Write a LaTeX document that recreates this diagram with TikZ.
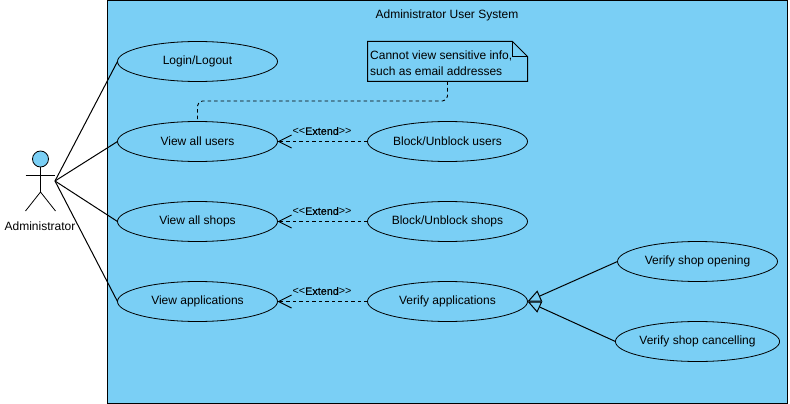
\documentclass[tikz,border=0pt]{standalone}
\usepackage{fontspec}
\setmainfont{Liberation Sans}
\newfontfamily\extendfont[FakeBold=0.6]{Liberation Sans}
\usetikzlibrary{arrows.meta}
\usetikzlibrary{shapes.geometric}
\definecolor{sysblue}{HTML}{7ACFF5}
\tikzset{usecase/.style = {draw, ellipse, line width = 0.8pt, inner sep = 0, outer sep = 0,
                           minimum width = 160pt, minimum height = 40pt, font = \fontsize{12}{14}\selectfont}}
\tikzset{extend/.style = {line width = 0.9pt, dash pattern = on 3.5pt off 3pt,
                          -{Straight Barb[length = 13pt, width = 13pt, line width = 1pt]}}}
\tikzset{general/.style = {line width = 1pt, -{Triangle[open, length = 13.5pt, width = 12pt]}}}
\tikzset{extlabel/.style = {font = \fontsize{10.8}{12}\selectfont, inner sep = 0}}

\begin{document}
\begin{tikzpicture}[x=1pt, y=-1pt]
    \useasboundingbox (0, 0) rectangle (790, 404);
    \node [draw, fill=sysblue, line width=1pt, inner sep=0, outer sep=0, minimum width=680pt,
           minimum height=403pt] (system) at (447.5, 202) {};
    \node [font=\fontsize{12}{14}\selectfont] (systemname) at (447, 15) {Administrator User System};

    \foreach \name/\y/\txt in {login/61.5/{Login/Logout}, users/141.5/View all users,
                               shops/221.5/View all shops, apps/301.5/View applications} {
      \node [usecase] (\name) at (197.5, \y) {\txt};
    }
    \foreach \name/\y/\txt in {blockusers/141.5/{Block/Unblock users},
                               blockshops/221.5/{Block/Unblock shops},
                               verifyapps/301.5/Verify applications} {
      \node [usecase] (\name) at (447.5, \y) {\txt};
    }
    \node [usecase] (opening) at (697.5, 261.5) {Verify shop opening};
    \node [usecase] (cancelling) at (697.5, 341.5) {Verify shop cancelling};

    \node [circle, draw, fill=sysblue, line width=0.8pt, inner sep=0, outer sep=0,
           minimum size=16pt] (head) at (40.5, 159) {};
    \coordinate (hip) at (40.5, 192);
    \coordinate (hand) at (55, 181);
    \draw [line width=0.8pt] (head.south) -- (hip);
    \draw [line width=0.8pt] (25.5, 175) -- (55, 175);
    \draw [line width=0.8pt] (25.5, 211) -- (hip) -- (55.5, 211);
    \node [font=\fontsize{12}{14}\selectfont] (actor) at (40, 226) {Administrator};

    \foreach \name in {login, users, shops, apps} {
      \draw [line width=1pt] (hand) -- (\name.west);
    }
    \foreach \from/\to in {blockusers/users, blockshops/shops, verifyapps/apps} {
      \draw [extend] (\from.west) -- (\to.east);
    }
    \foreach \lab/\y in {extusers/131, extshops/211, extapps/291} {
      \node [extlabel] (\lab) at (322, \y) {{<}{<}{\extendfont Extend}{>}{>}};
    }
    \draw [general] (opening.west) -- (verifyapps.east);
    \draw [general] (cancelling.west) -- (verifyapps.east);

    \node [inner sep=0, outer sep=0, minimum width=160pt, minimum height=40pt] (note) at (447.5, 61.5) {};
    \draw [line width=1pt] (note.north west) -- (512.5, 41.5) -- (note.east |- 56.5, 56.5)
      -- (note.south east) -- (note.south west) -- cycle;
    \draw [line width=1pt] (512.5, 41.5) -- (512.5, 56.5) -- (note.east |- 56.5, 56.5);
    \node [anchor=west, align=left, inner sep=0, font=\fontsize{12}{16}\selectfont] (notetext) at (370, 63)
      {Cannot view sensitive info,\\such as email addresses};
    \draw [line width=0.9pt, dash pattern=on 3.5pt off 3pt, rounded corners=5pt]
      (note.south) |- (197.5, 101) -- (197.5, 120);
\end{tikzpicture}
\end{document}
